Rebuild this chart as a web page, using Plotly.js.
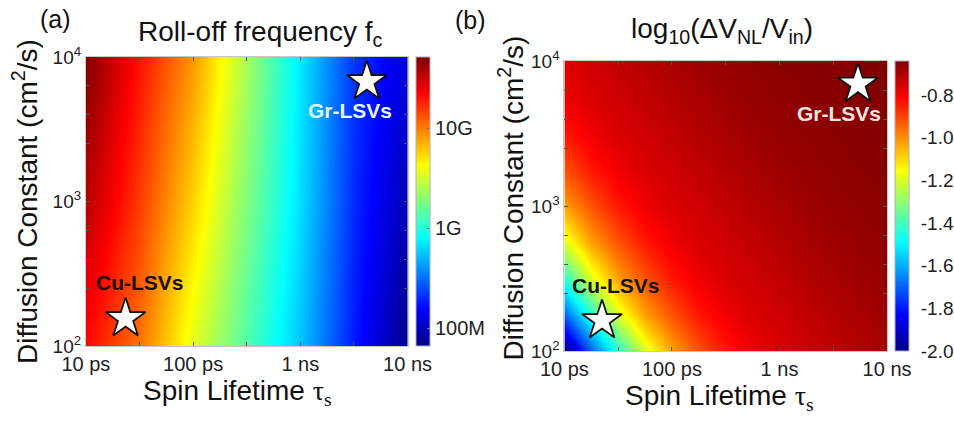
<!DOCTYPE html>
<html>
<head>
<meta charset="utf-8">
<script src="https://cdn.plot.ly/plotly-3.0.1.min.js"></script>
<style>html,body{margin:0;padding:0;background:#fff;}#chart{width:954px;height:421px;}</style>
</head>
<body>
<div id="chart"></div>
<script>
// ---- data (log10 values) ----
// spin lifetime, log10(seconds)
const tauExpA = [-11, -10.5, -10, -9.5, -9, -8.5, -8];
// diffusion constant, log10(cm^2/s)
const dExpA = [2, 3, 4];
// panel (a): log10 of roll-off frequency (Hz)
const fcLogA = [
  [10.33, 10.02, 9.55, 9.13, 8.74, 8.25, 7.82],
  [10.55, 10.18, 9.75, 9.27, 8.82, 8.30, 7.95],
  [10.71, 10.30, 9.92, 9.38, 8.85, 8.33, 8.08]
];
const tauExpB = [-11, -10.75, -10.5, -10.25, -10, -9.75, -9.5, -9.25, -9, -8.75, -8.5, -8.25, -8];
const dExpB = [2, 2.25, 2.5, 2.75, 3, 3.25, 3.5, 3.75, 4];
// panel (b): log10(dV_NL / V_in)
const signalB = [
  [-2.00,-1.70,-1.44,-1.19,-1.02,-0.92,-0.84,-0.79,-0.76,-0.745,-0.73,-0.71,-0.695],
  [-1.70,-1.44,-1.19,-1.02,-0.92,-0.84,-0.79,-0.76,-0.745,-0.73,-0.71,-0.695,-0.683],
  [-1.44,-1.19,-1.02,-0.92,-0.84,-0.79,-0.76,-0.745,-0.73,-0.71,-0.695,-0.683,-0.67],
  [-1.19,-1.02,-0.92,-0.84,-0.79,-0.76,-0.745,-0.73,-0.71,-0.695,-0.683,-0.67,-0.662],
  [-1.02,-0.92,-0.84,-0.79,-0.76,-0.745,-0.73,-0.71,-0.695,-0.683,-0.67,-0.662,-0.655],
  [-0.92,-0.84,-0.79,-0.76,-0.745,-0.73,-0.71,-0.695,-0.683,-0.67,-0.662,-0.655,-0.651],
  [-0.84,-0.79,-0.76,-0.745,-0.73,-0.71,-0.695,-0.683,-0.67,-0.662,-0.655,-0.651,-0.647],
  [-0.79,-0.76,-0.745,-0.73,-0.71,-0.695,-0.683,-0.67,-0.662,-0.655,-0.651,-0.647,-0.643],
  [-0.76,-0.745,-0.73,-0.71,-0.695,-0.683,-0.67,-0.662,-0.655,-0.651,-0.647,-0.643,-0.64]
];
// device markers: [log10 tau, log10 D]
const cuStarA = [-10.63, 2.19];
const grStarA = [-8.38, 3.83];
const cuStarB = [-10.65, 2.21];
const grStarB = [-8.27, 3.84];
const deviceLabels = ['Cu-LSVs', 'Gr-LSVs'];

// tick labels
const xTickVals = [-11, -10, -9, -8];
const xTickText = ['10 ps', '100 ps', '1 ns', '10 ns'];
const xMinorVals = [-10.5, -9.5, -8.5];
const yTickVals = [2, 3, 4];
const yTickText = ['10<sup>2</sup>', '10<sup>3</sup>', '10<sup>4</sup>'];
const yMinorVals = [2.4, 2.6, 2.8, 3.4, 3.6, 3.8];
const cbTickValsA = [8, 9, 10];
const cbTickTextA = ['100M', '1G', '10G'];
const cbTickValsB = [-2.0, -1.8, -1.6, -1.4, -1.2, -1.0, -0.8];
const cbTickTextB = ['-2.0', '-1.8', '-1.6', '-1.4', '-1.2', '-1.0', '-0.8'];

// ---- rendering ----
const W = 954, H = 421;
const px = v => v / W;
const py = v => 1 - v / H;
const FONT = 'Liberation Sans, Arial, Helvetica, sans-serif';
const jet = [[0, '#00008a'], [0.125, '#0000ff'], [0.375, '#00ffff'], [0.625, '#ffff00'], [0.875, '#ff0000'], [1, '#800000']];

const traces = [
  {
    type: 'heatmap', x: tauExpA, y: dExpA, z: fcLogA, zsmooth: 'best',
    colorscale: jet, zmin: 7.82, zmax: 10.71, xaxis: 'x', yaxis: 'y', hoverinfo: 'skip',
    colorbar: {
      x: px(416), xanchor: 'left', y: py(201.5), yanchor: 'middle', len: 289 / H, lenmode: 'fraction',
      thickness: 14, thicknessmode: 'pixels', xpad: 0, ypad: 0,
      outlinewidth: 1, outlinecolor: '#b0b0b0',
      tickmode: 'array', tickvals: cbTickValsA, ticktext: cbTickTextA,
      ticks: 'inside', ticklen: 3, tickcolor: '#777',
      tickfont: {family: FONT, size: 20, color: '#222'}
    }
  },
  {
    type: 'heatmap', x: tauExpB, y: dExpB, z: signalB, zsmooth: 'best',
    colorscale: jet, zmin: -2.0, zmax: -0.64, xaxis: 'x2', yaxis: 'y2', hoverinfo: 'skip',
    colorbar: {
      x: px(895), xanchor: 'left', y: py(206), yanchor: 'middle', len: 290 / H, lenmode: 'fraction',
      thickness: 14, thicknessmode: 'pixels', xpad: 0, ypad: 0,
      outlinewidth: 1, outlinecolor: '#b0b0b0',
      tickmode: 'array', tickvals: cbTickValsB, ticktext: cbTickTextB,
      ticks: 'outside', ticklen: 8, tickcolor: 'rgba(0,0,0,0)',
      tickfont: {family: FONT, size: 19, color: '#222'}
    }
  }
];

function stars(a, b, xa, ya) {
  return {
    type: 'scatter', mode: 'markers', x: [a[0], b[0]], y: [a[1], b[1]], xaxis: xa, yaxis: ya,
    marker: {symbol: 'star', size: 30, color: '#ffffff', line: {color: '#111', width: 1.8}},
    hoverinfo: 'skip', showlegend: false
  };
}
traces.push(stars(cuStarA, grStarA, 'x', 'y'));
traces.push(stars(cuStarB, grStarB, 'x2', 'y2'));

function xax(d) {
  return {
    domain: d, range: [-11, -8], tickmode: 'array', tickvals: xTickVals, ticktext: xTickText,
    ticks: 'inside', ticklen: 4, tickcolor: '#555', mirror: 'ticks', showline: true,
    minor: {tickmode: 'array', tickvals: xMinorVals, ticks: 'inside', ticklen: 4, tickcolor: '#555', showgrid: false},
    linecolor: '#c8c8c8', linewidth: 1, showgrid: false, zeroline: false, fixedrange: true,
    tickfont: {family: FONT, size: 20, color: '#222'}
  };
}
function yax(d) {
  return {
    domain: d, range: [2, 4], tickmode: 'array', tickvals: yTickVals, ticktext: yTickText,
    ticks: 'inside', ticklen: 4, tickcolor: '#555', mirror: 'ticks', showline: true,
    minor: {tickmode: 'array', tickvals: yMinorVals, ticks: 'inside', ticklen: 4, tickcolor: '#555', showgrid: false},
    linecolor: '#c8c8c8', linewidth: 1, showgrid: false, zeroline: false, fixedrange: true,
    tickfont: {family: FONT, size: 19, color: '#222'}
  };
}

const serifTau = '<span style="font-family:Liberation Serif, Times New Roman, serif">τ<sub>s</sub></span>';
function ann(text, x, y, size, opts) {
  return Object.assign({
    text: text, xref: 'paper', yref: 'paper', x: px(x), y: py(y), xanchor: 'center', yanchor: 'middle',
    showarrow: false, font: {family: FONT, size: size, color: '#111'}
  }, opts || {});
}
const annotations = [
  ann('(a)', 56, 19, 25),
  ann('(b)', 471, 20, 25),
  ann('Roll-off frequency f<sub>c</sub>', 261, 33, 28),
  ann('log<sub>10</sub>(ΔV<sub>NL</sub>/V<sub>in</sub>)', 723, 30, 28),
  ann('Spin Lifetime ' + serifTau, 238, 392, 28),
  ann('Spin Lifetime ' + serifTau, 720, 397, 28),
  ann('Diffusion Constant (cm<sup>2</sup>/s)', 25, 201, 28, {textangle: -90}),
  ann('Diffusion Constant (cm<sup>2</sup>/s)', 512, 198, 28, {textangle: -90}),
  {text: '<b>' + deviceLabels[0] + '</b>', xref: 'x', yref: 'y', x: -10.50, y: 2.44, showarrow: false,
   font: {family: FONT, size: 21, color: '#1a0a05'}},
  {text: '<b>' + deviceLabels[1] + '</b>', xref: 'x', yref: 'y', x: -8.54, y: 3.63, showarrow: false,
   font: {family: FONT, size: 21, color: '#e4f6ff'}},
  {text: '<b>' + deviceLabels[0] + '</b>', xref: 'x2', yref: 'y2', x: -10.52, y: 2.45, showarrow: false,
   font: {family: FONT, size: 21, color: '#141400'}},
  {text: '<b>' + deviceLabels[1] + '</b>', xref: 'x2', yref: 'y2', x: -8.45, y: 3.64, showarrow: false,
   font: {family: FONT, size: 21, color: '#f6e4e4'}}
];

const layout = {
  width: W, height: H, margin: {l: 0, r: 0, t: 0, b: 0},
  paper_bgcolor: '#fff', plot_bgcolor: '#fff', showlegend: false,
  xaxis: xax([px(86), px(408)]), yaxis: yax([py(346), py(57)]),
  xaxis2: Object.assign(xax([px(565), px(888)]), {anchor: 'y2'}),
  yaxis2: Object.assign(yax([py(351), py(61)]), {anchor: 'x2'}),
  annotations: annotations
};
layout.xaxis.anchor = 'y';
layout.yaxis.anchor = 'x';

Plotly.newPlot('chart', traces, layout, {displayModeBar: false, staticPlot: true});
</script>
</body>
</html>
